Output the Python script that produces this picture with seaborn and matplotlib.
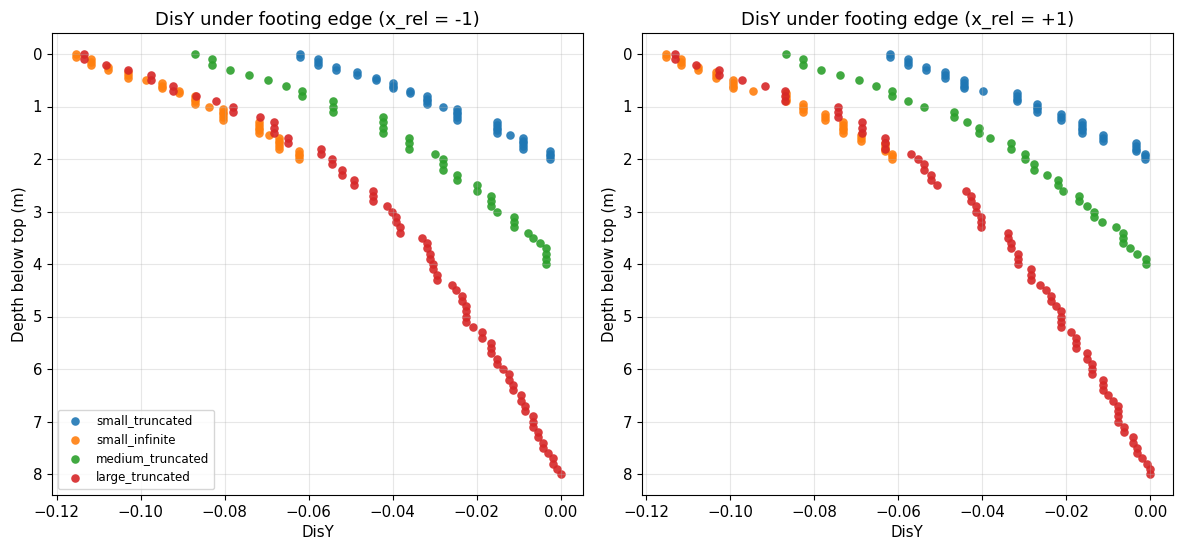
import pandas as pd
import matplotlib
matplotlib.use("Agg")
import matplotlib.pyplot as plt
import seaborn as sns

# Depth grids (m below top) for each model size
DEPTH_SMALL = [0.0, 0.05, 0.1, 0.15, 0.2, 0.25, 0.3, 0.35, 0.4, 0.45,
               0.5, 0.55, 0.6, 0.65, 0.7, 0.75, 0.8, 0.85, 0.9, 0.95,
               1.0, 1.05, 1.1, 1.15, 1.2, 1.25, 1.3, 1.35, 1.4, 1.45,
               1.5, 1.55, 1.6, 1.65, 1.7, 1.75, 1.8, 1.85, 1.9, 1.95, 2.0]
DEPTH_MEDIUM = [0.0, 0.1, 0.2, 0.3, 0.4, 0.5, 0.6, 0.7, 0.8, 0.9,
                1.0, 1.1, 1.2, 1.3, 1.4, 1.5, 1.6, 1.7, 1.8, 1.9,
                2.0, 2.1, 2.2, 2.3, 2.4, 2.5, 2.6, 2.7, 2.8, 2.9,
                3.0, 3.1, 3.2, 3.3, 3.4, 3.5, 3.6, 3.7, 3.8, 3.9, 4.0]
DEPTH_LARGE = [0.0, 0.1, 0.2, 0.3, 0.4, 0.5, 0.6, 0.7, 0.8, 0.9,
               1.0, 1.1, 1.2, 1.3, 1.4, 1.5, 1.6, 1.7, 1.8, 1.9,
               2.0, 2.1, 2.2, 2.3, 2.4, 2.5, 2.6, 2.7, 2.8, 2.9,
               3.0, 3.1, 3.2, 3.3, 3.4, 3.5, 3.6, 3.7, 3.8, 3.9,
               4.0, 4.1, 4.2, 4.3, 4.4, 4.5, 4.6, 4.7, 4.8, 4.9,
               5.0, 5.1, 5.2, 5.3, 5.4, 5.5, 5.6, 5.7, 5.8, 5.9,
               6.0, 6.1, 6.2, 6.3, 6.4, 6.5, 6.6, 6.7, 6.8, 6.9,
               7.0, 7.1, 7.2, 7.3, 7.4, 7.5, 7.6, 7.7, 7.8, 7.9, 8.0]

# DisY under the left footing edge (x_rel = -1)
LEFT_SMALL_TRUNC = [
    -0.0620, -0.0620,
    -0.0577, -0.0577, -0.0577,
    -0.0535, -0.0535,
    -0.0485, -0.0485,
    -0.0439, -0.0439,
    -0.0399, -0.0399, -0.0399,
    -0.0358, -0.0358,
    -0.0318, -0.0318, -0.0318, -0.0318,
    -0.0280,
    -0.0246, -0.0246, -0.0246, -0.0246, -0.0246,
    -0.0151, -0.0151, -0.0151, -0.0151, -0.0151,
    -0.0120,
    -0.0089, -0.0089, -0.0089, -0.0089, -0.0089,
    -0.0025, -0.0025, -0.0025, -0.0025]
LEFT_SMALL_INF = [
    -0.1154, -0.1154,
    -0.1118, -0.1118, -0.1118,
    -0.1077, -0.1077,
    -0.1031, -0.1031, -0.1031,
    -0.0988,
    -0.0948, -0.0948, -0.0948,
    -0.0908, -0.0908,
    -0.0870, -0.0870, -0.0870, -0.0870,
    -0.0837,
    -0.0805, -0.0805, -0.0805, -0.0805, -0.0805,
    -0.0718, -0.0718, -0.0718, -0.0718, -0.0718,
    -0.0694,
    -0.0670, -0.0670, -0.0670, -0.0670, -0.0670,
    -0.0624, -0.0624, -0.0624, -0.0624]
LEFT_MEDIUM_TRUNC = [
    -0.0870,
    -0.0829, -0.0829,
    -0.0787,
    -0.0741,
    -0.0696,
    -0.0654,
    -0.0616, -0.0616,
    -0.0542, -0.0542, -0.0542,
    -0.0422, -0.0422, -0.0422, -0.0422,
    -0.0361, -0.0361, -0.0361,
    -0.0300,
    -0.0279, -0.0279, -0.0279,
    -0.0247, -0.0247,
    -0.0198, -0.0198,
    -0.0166, -0.0166, -0.0166,
    -0.0152,
    -0.0110, -0.0110, -0.0110,
    -0.0077,
    -0.0066,
    -0.0050,
    -0.0035, -0.0035, -0.0035, -0.0035]
LEFT_LARGE_TRUNC = [
    -0.1134, -0.1134,
    -0.1082,
    -0.1029,
    -0.0975, -0.0975,
    -0.0922, -0.0922,
    -0.0869,
    -0.0821,
    -0.0779, -0.0779,
    -0.0715,
    -0.0682, -0.0682, -0.0682,
    -0.0648, -0.0648,
    -0.0571, -0.0571,
    -0.0545, -0.0545,
    -0.0520, -0.0520,
    -0.0493, -0.0493,
    -0.0446, -0.0446, -0.0446,
    -0.0414,
    -0.0402,
    -0.0392, -0.0392,
    -0.0382, -0.0382,
    -0.0330,
    -0.0319, -0.0319,
    -0.0311, -0.0311,
    -0.0303, -0.0303,
    -0.0295, -0.0295,
    -0.0259,
    -0.0249,
    -0.0235, -0.0235,
    -0.0225, -0.0225, -0.0225, -0.0225,
    -0.0208,
    -0.0186, -0.0186,
    -0.0166, -0.0166, -0.0166,
    -0.0152, -0.0152,
    -0.0136,
    -0.0124, -0.0124,
    -0.0114, -0.0114,
    -0.0095, -0.0095,
    -0.0085, -0.0085,
    -0.0065, -0.0065, -0.0065,
    -0.0054, -0.0054,
    -0.0042, -0.0042,
    -0.0029,
    -0.0017, -0.0017,
    -0.0009,
    0.0]

# DisY under the right footing edge (x_rel = +1)
RIGHT_SMALL_TRUNC = [
    -0.0620, -0.0620,
    -0.0577, -0.0577, -0.0577,
    -0.0534, -0.0534,
    -0.0489, -0.0489, -0.0489,
    -0.0444, -0.0444, -0.0444, -0.0444,
    -0.0398,
    -0.0318, -0.0318, -0.0318, -0.0318,
    -0.0269, -0.0269, -0.0269, -0.0269,
    -0.0213, -0.0213, -0.0213,
    -0.0163, -0.0163, -0.0163, -0.0163, -0.0163,
    -0.0113, -0.0113, -0.0113,
    -0.0035, -0.0035, -0.0035, -0.0035,
    -0.0012, -0.0012, -0.0012]
RIGHT_SMALL_INF = [
    -0.1153, -0.1153,
    -0.1117, -0.1117, -0.1117,
    -0.1076, -0.1076,
    -0.1034, -0.1034, -0.1034,
    -0.0995, -0.0995, -0.0995, -0.0995,
    -0.0946,
    -0.0868, -0.0868, -0.0868, -0.0868,
    -0.0826, -0.0826, -0.0826, -0.0826,
    -0.0774, -0.0774, -0.0774,
    -0.0732, -0.0732, -0.0732, -0.0732, -0.0732,
    -0.0688, -0.0688, -0.0688,
    -0.0631, -0.0631, -0.0631, -0.0631,
    -0.0615, -0.0615, -0.0615]
RIGHT_MEDIUM_TRUNC = [
    -0.0868,
    -0.0828, -0.0828,
    -0.0785,
    -0.0739,
    -0.0695,
    -0.0653,
    -0.0615, -0.0615,
    -0.0576,
    -0.0538,
    -0.0468, -0.0468,
    -0.0437,
    -0.0408, -0.0408,
    -0.0382,
    -0.0331, -0.0331,
    -0.0298, -0.0298,
    -0.0277, -0.0277,
    -0.0245,
    -0.0221, -0.0221,
    -0.0209,
    -0.0171, -0.0171,
    -0.0151,
    -0.0134, -0.0134,
    -0.0116,
    -0.0082,
    -0.0066, -0.0066, -0.0066,
    -0.0049,
    -0.0031,
    -0.0011, -0.0011]
RIGHT_LARGE_TRUNC = [
    -0.1133, -0.1133,
    -0.1081,
    -0.1028, -0.1028,
    -0.0972,
    -0.0918,
    -0.0869, -0.0869, -0.0869,
    -0.0743, -0.0743, -0.0743,
    -0.0686, -0.0686, -0.0686,
    -0.0632, -0.0632, -0.0632,
    -0.0571,
    -0.0554,
    -0.0538, -0.0538,
    -0.0523, -0.0523,
    -0.0509,
    -0.0438,
    -0.0426, -0.0426,
    -0.0416, -0.0416,
    -0.0404, -0.0404, -0.0404,
    -0.0340, -0.0340,
    -0.0331, -0.0331,
    -0.0315, -0.0315, -0.0315,
    -0.0285, -0.0285, -0.0285,
    -0.0263,
    -0.0249,
    -0.0237, -0.0237,
    -0.0225,
    -0.0212, -0.0212, -0.0212, -0.0212,
    -0.0190,
    -0.0178, -0.0178, -0.0178,
    -0.0151, -0.0151,
    -0.0139, -0.0139, -0.0139,
    -0.0114, -0.0114, -0.0114,
    -0.0102,
    -0.0090,
    -0.0078, -0.0078, -0.0078, -0.0078,
    -0.0062, -0.0062,
    -0.0042, -0.0042,
    -0.0031, -0.0031,
    -0.0019,
    -0.0008,
    0.0, 0.0]

MODEL_NAMES = ["small_truncated", "small_infinite", "medium_truncated", "large_truncated"]
PANEL_TITLES = ["DisY under footing edge (x_rel = -1)", "DisY under footing edge (x_rel = +1)"]


def build_frame(x_values, depths, model):
    return pd.DataFrame({"DisY": x_values, "depth": depths, "model": model})


def main():
    panels = [
        [LEFT_SMALL_TRUNC, LEFT_SMALL_INF, LEFT_MEDIUM_TRUNC, LEFT_LARGE_TRUNC],
        [RIGHT_SMALL_TRUNC, RIGHT_SMALL_INF, RIGHT_MEDIUM_TRUNC, RIGHT_LARGE_TRUNC],
    ]
    depth_grids = [DEPTH_SMALL, DEPTH_SMALL, DEPTH_MEDIUM, DEPTH_LARGE]
    colors = sns.color_palette("tab10", 4)

    fig, axes = plt.subplots(1, 2, figsize=(11.77, 5.5), dpi=100)

    for i, ax in enumerate(axes):
        for name, xs, depths, color in zip(MODEL_NAMES, panels[i], depth_grids, colors):
            df = build_frame(xs, depths, name)
            sns.scatterplot(data=df, x="DisY", y="depth", ax=ax, color=color,
                            s=38, alpha=0.9, linewidth=0, label=name)

        ax.set_xlim(-0.1211, 0.0053)
        ax.set_ylim(8.4, -0.4)
        ax.set_title(PANEL_TITLES[i], fontsize=13)
        ax.set_xlabel("DisY", fontsize=10.8)
        ax.set_ylabel("Depth below top (m)", fontsize=10.8)
        ax.tick_params(labelsize=10.8)
        ax.grid(True, alpha=0.3)

        leg = ax.get_legend()
        if leg is not None:
            leg.remove()
        if i == 0:
            ax.legend(loc="lower left", fontsize=8.6)

    fig.subplots_adjust(left=0.0442, right=0.9963, bottom=0.1, top=0.94, wspace=0.111)
    fig.savefig("out.png", dpi=100)
    plt.close(fig)


if __name__ == "__main__":
    main()
